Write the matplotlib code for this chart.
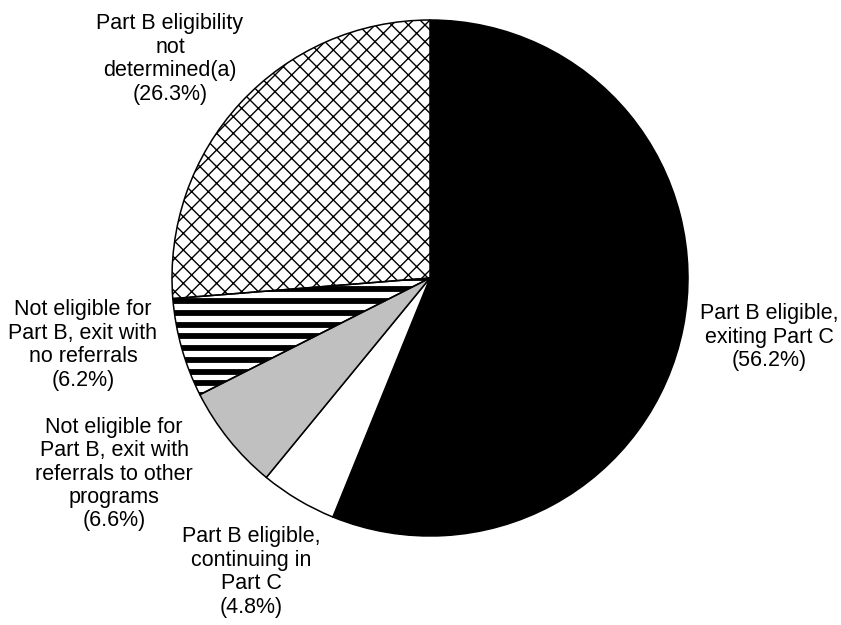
import matplotlib.pyplot as plt
import numpy as np

plt.rcParams['font.family'] = ['Liberation Sans', 'DejaVu Sans']
plt.rcParams['hatch.linewidth'] = 1.0

# clockwise from 12 o'clock
names = [
    "Part B eligible,\nexiting Part C",
    "Part B eligible,\ncontinuing in\nPart C",
    "Not eligible for\nPart B, exit with\nreferrals to other\nprograms",
    "Not eligible for\nPart B, exit with\nno referrals",
    "Part B eligibility\nnot\ndetermined(a)",
]
shares = [56.2, 4.8, 6.6, 6.2, 26.3]

fills = ["black", "white", "#c0c0c0", "white", "white"]
hatches = [None, None, None, None, "xx"]
# label centres in pixels (x from left, y from top)
label_px = [(769, 337), (251, 572), (114, 474), (83, 345), (170, 59)]

W, H = 841, 625
cx, cy, r = 430, 278, 258

fig = plt.figure(figsize=(W / 100, H / 100), dpi=100)
ax = fig.add_axes([(cx - r) / W, (H - cy - r) / H, 2 * r / W, 2 * r / H])

wedges, _ = ax.pie(shares, colors=fills, startangle=90, counterclock=False,
                   radius=1, wedgeprops=dict(edgecolor="black", linewidth=1.1))
for w, h in zip(wedges, hatches):
    if h:
        w.set_hatch(h)

# horizontal stripes for the "no referrals" slice
stripe = wedges[3]
for y in np.arange(-1, 1, 0.0455):
    ln = ax.axhline(y, color="black", linewidth=4.2, zorder=1.5)
    ln.set_clip_path(stripe)
stripe.set_zorder(2)
stripe.set_facecolor("none")

ax.set_xlim(-1, 1)
ax.set_ylim(-1, 1)
ax.set_aspect("equal")
ax.axis("off")

for name, v, (px, py) in zip(names, shares, label_px):
    fig.text(px / W, 1 - py / H, f"{name}\n({v}%)", ha="center", va="center",
             fontsize=15.5, linespacing=1.15)

fig.savefig("out.png", dpi=100, facecolor="white")
